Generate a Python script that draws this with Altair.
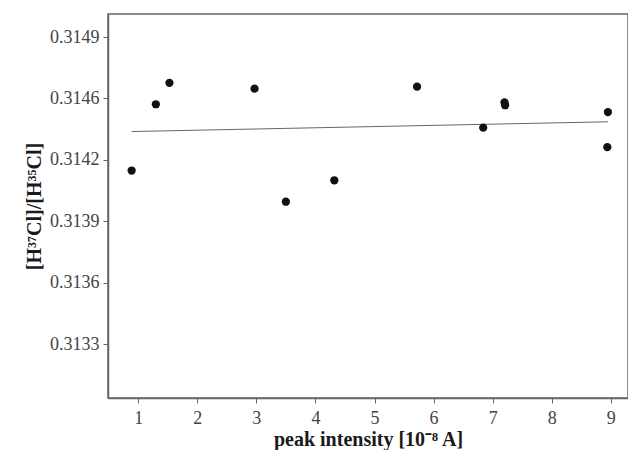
import altair as alt
import pandas as pd

# measured points
peak_x = [0.89, 1.30, 1.53, 2.97, 3.50, 4.32, 5.72, 6.84, 7.20, 7.21, 8.95, 8.94]
ratio_y = [0.31419, 0.31453, 0.31464, 0.31461, 0.31403, 0.31414,
           0.31462, 0.31441, 0.31454, 0.314525, 0.31449, 0.31431]

# fitted line end points
fit_x = [0.89, 8.95]
fit_y = [0.31439, 0.31444]

x_ticks = [1, 2, 3, 4, 5, 6, 7, 8, 9]
y_ticks = [0.3133, 0.313615, 0.31393, 0.314245, 0.31456, 0.314875]

pts = pd.DataFrame({"x": peak_x, "y": ratio_y})
fit = pd.DataFrame({"x": fit_x, "y": fit_y})

font = "Liberation Serif"

xscale = alt.Scale(domain=[0.49, 9.29], nice=False, zero=False)
yscale = alt.Scale(domain=[0.313023, 0.314993], nice=False, zero=False)

xaxis = alt.Axis(values=x_ticks, title="peak intensity [10⁻⁸ A]", format="d",
                 titleFontWeight="bold", titleFontSize=20, titleFont=font,
                 titleY=41, titleBaseline="middle", titleColor="#1a1a1a",
                 grid=False, labelPadding=6)
yaxis = alt.Axis(values=y_ticks, title="[H³⁷Cl]/[H³⁵Cl]",
                 labelExpr="format(datum.value - 0.0000001, '.4f')",
                 titleFontWeight="bold", titleFontSize=20, titleFont=font,
                 titleX=-74, titleY=192, titleAngle=-90, titleBaseline="middle",
                 titleColor="#1a1a1a", grid=False, labelPadding=4)

points = alt.Chart(pts).mark_circle(size=68, color="#111111", opacity=1).encode(
    x=alt.X("x:Q", scale=xscale, axis=xaxis),
    y=alt.Y("y:Q", scale=yscale, axis=yaxis),
)

line = alt.Chart(fit).mark_line(color="#666666", strokeWidth=1).encode(
    x=alt.X("x:Q", scale=xscale),
    y=alt.Y("y:Q", scale=yscale),
)

chart = (line + points).properties(
    width=520, height=384,
    padding={"left": 100, "top": 6, "right": 0, "bottom": 52},
    autosize=alt.AutoSizeParams(type="none"),
    background="white",
).configure_view(
    stroke="#666666", strokeWidth=1.5
).configure_axis(
    grid=False, labelFont=font, labelFontSize=18, labelColor="#444444",
    domainColor="#666666", domainWidth=1.5, tickColor="#666666", tickSize=5,
)

chart.save("out.html", embed_options={"renderer": "svg", "actions": False})
